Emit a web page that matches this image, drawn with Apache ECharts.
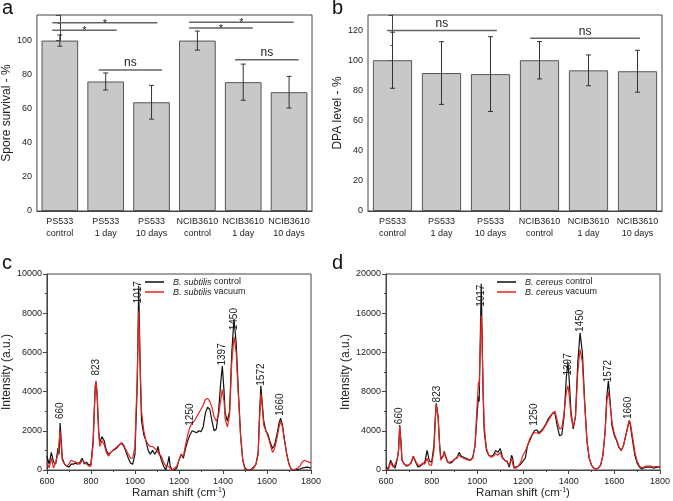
<!DOCTYPE html>
<html><head><meta charset="utf-8">
<script src="https://cdn.jsdelivr.net/npm/echarts@6/dist/echarts.min.js"></script>
<style>html,body{margin:0;padding:0;background:#fff}#main{width:673px;height:501px}</style>
</head><body><div id="main"></div>
<script>
const categories = ['PS533\ncontrol','PS533\n1 day','PS533\n10 days','NCIB3610\ncontrol','NCIB3610\n1 day','NCIB3610\n10 days'];
const survival = [100, 76.0, 63.8, 100, 75.6, 69.7];
const survivalErr = [3.3, 5.0, 9.9, 5.6, 10.6, 9.3];
const dpa = [100, 91.5, 90.8, 100, 93.3, 92.7];
const dpaErr = [18.6, 20.8, 24.8, 12.4, 10.2, 13.9];

const sigAx1 = [-0.165, -0.165, 0.85, 2.82, 2.82, 3.82];
const sigAx2 = [2.13, 1.24, 2.23, 5.1, 4.21, 5.21];
const sigAy = [110.4, 106.1, 82.7, 110.8, 107.3, 88.8];
const sigAtext = ['*', '*', 'ns', '*', '*', 'ns'];
const sigBx1 = [-0.113, 2.81];
const sigBx2 = [2.13, 5.05];
const sigBy = [119.8, 114.5];
const sigBtext = ['ns', 'ns'];

const ramanC = [600,610,620,630,640,650,655,660,665,670,
680,690,700,710,720,730,740,750,760,770,
780,790,800,810,815,820,823,828,835,840,
850,855,860,870,880,890,900,910,920,930,
940,950,960,970,980,990,1000,1005,1010,1014,
1017,1020,1025,1030,1040,1050,1060,1070,1080,1090,
1100,1105,1110,1120,1130,1140,1150,1155,1160,1170,
1180,1190,1200,1210,1220,1230,1240,1250,1260,1270,
1280,1290,1300,1310,1320,1330,1340,1350,1360,1370,
1380,1390,1397,1405,1410,1420,1430,1440,1450,1460,
1470,1480,1490,1500,1510,1520,1530,1540,1550,1560,
1565,1572,1578,1585,1595,1605,1615,1625,1635,1645,
1655,1662,1670,1680,1690,1700,1710,1720,1730,1740,
1750,1760,1770,1780,1790,1800];
const subtilisControl = [700,300,900,400,300,1100,800,2400,1500,600,
300,200,150,300,300,350,300,400,600,300,
400,250,300,1500,3000,4300,4500,3800,2000,1400,
1700,1800,1500,1000,800,900,1000,1050,1150,1300,
1350,1200,900,600,350,300,800,2500,4200,7000,
9400,7500,4500,2500,1800,1500,1000,800,1000,800,
1000,1200,900,500,200,0,400,700,200,0,
0,100,500,800,600,1100,1500,1800,2000,1950,
1900,2000,1950,2200,2900,3200,3100,2500,2000,2100,
3000,4500,5300,4000,2900,2500,3000,6000,7700,6500,
4000,1800,500,100,0,0,50,150,300,900,
2500,4300,3500,2500,2000,1800,1400,1100,1300,1800,
2400,2650,2300,1500,800,300,50,0,0,30,
50,100,120,150,130,100];
const subtilisVacuum = [400,100,600,100,400,800,700,2000,1200,500,
300,200,300,500,450,400,350,300,500,400,
300,200,200,1300,2900,4300,4550,3900,2000,1200,
1500,1600,1300,900,700,900,1000,1100,1200,1300,
1400,1250,1000,800,600,600,1200,3000,4500,6500,
8100,7000,4800,3000,2000,1500,1300,1200,1200,1100,
1000,900,800,700,400,200,200,150,100,0,
100,200,500,800,700,1300,1800,2200,2400,2500,
2700,2900,3100,3300,3600,3650,3500,3200,2700,2500,
2800,3600,4100,3500,2600,2200,2800,5500,6800,6000,
3800,1700,500,0,0,0,0,100,300,800,
2300,3900,3300,2300,2000,1700,1300,900,1100,1600,
2200,2500,2200,1500,800,300,50,0,50,100,
200,400,500,450,400,350];

const ramanD = [600,610,620,630,640,650,655,660,665,670,
680,690,700,710,720,730,740,750,760,770,
780,785,790,800,810,815,820,823,828,835,
840,850,855,860,870,880,890,900,910,920,
930,940,950,960,970,980,990,1000,1005,1008,
1012,1017,1020,1025,1030,1040,1050,1060,1070,1080,
1090,1100,1105,1110,1120,1130,1140,1150,1155,1160,
1170,1180,1190,1200,1210,1220,1230,1240,1250,1260,
1270,1280,1290,1300,1310,1320,1330,1340,1350,1360,
1370,1380,1390,1397,1403,1410,1420,1430,1440,1450,
1460,1470,1480,1490,1500,1510,1520,1530,1540,1550,
1560,1567,1574,1580,1590,1600,1610,1620,1630,1640,
1650,1660,1665,1670,1680,1690,1700,1710,1720,1730,
1740,1750,1760,1770,1780,1790,1800];
const cereusControl = [300,100,1000,500,200,1200,2000,4600,3000,1000,
600,400,500,700,1400,800,300,400,600,800,
2000,1800,900,800,2500,5000,6800,7000,5500,2500,
1200,1400,1900,1500,800,700,800,1100,1200,1800,
1400,1300,1200,1100,1000,1300,2500,6000,7500,7000,
12000,19000,15000,8000,4000,2000,1500,1400,1500,2000,
1800,2200,1800,1300,1000,900,300,1500,1200,300,
300,400,600,900,1200,2500,3000,3600,4000,4100,
3800,4000,4300,4700,5200,5500,5800,5800,4500,3500,
3600,5500,9500,11000,9000,6000,4200,5500,11000,14000,
12000,7000,3000,1200,500,200,100,200,500,1500,
4000,7500,9100,7500,4500,3500,3000,2300,2000,2500,
3500,4500,5000,4600,3000,1500,700,300,100,200,
300,300,300,200,250,300,300];
const cereusVacuum = [100,0,800,300,600,1200,2000,4500,3000,1000,
600,500,500,800,1400,900,500,500,700,600,
1200,1000,500,500,2000,4500,6700,6900,5500,2500,
1000,1400,1800,1400,800,800,900,1100,1300,1500,
1300,1200,1100,1000,1000,1200,2500,7000,9000,8500,
12000,15800,14000,8500,4500,2200,1500,1300,1400,1700,
1500,1800,1600,1200,1000,800,500,1100,900,200,
200,400,800,1500,1900,2500,3200,3600,3800,3800,
3700,3900,4200,4600,5000,5400,5800,6000,5000,4200,
4300,5800,8000,8600,7500,5500,4400,5500,10000,12300,
11000,6800,3000,1200,500,200,100,200,500,1500,
4000,7000,8000,7000,4800,3700,3100,2400,2000,2500,
3500,4500,5100,4800,3400,1800,900,400,200,300,
400,400,400,300,350,350,300];

const peaks = [660, 823, 1017, 1250, 1397, 1450, 1572, 1660];
const peakLabelC = [2600, 4820, 8500, 2260, 5330, 7130, 4300, 2770];
const peakLabelD = [4680, 6900, 16650, 4510, 9640, 14090, 8960, 5200];

const FONT = 'Liberation Sans, Arial, sans-serif';
const TXT = '#222';
const AX = '#444';

function pairs(xs, ys) { return xs.map((x, i) => [x, ys[i]]); }

function errorSeries(vals, errs, xi, yi) {
  return {
    type: 'custom', xAxisIndex: xi, yAxisIndex: yi, z: 5,
    data: vals.map((v, i) => [i, v, errs[i]]),
    encode: { x: 0, y: 1 },
    renderItem: function (params, api) {
      const i = api.value(0), v = api.value(1), e = api.value(2);
      const t = api.coord([i, v + e]), b = api.coord([i, v - e]);
      const hw = 2.5;
      const st = { stroke: '#333', lineWidth: 1 };
      return { type: 'group', children: [
        { type: 'line', shape: { x1: t[0], y1: t[1], x2: b[0], y2: b[1] }, style: st },
        { type: 'line', shape: { x1: t[0] - hw, y1: t[1], x2: t[0] + hw, y2: t[1] }, style: st },
        { type: 'line', shape: { x1: b[0] - hw, y1: b[1], x2: b[0] + hw, y2: b[1] }, style: st }
      ]};
    }
  };
}

function sigSeries(x1s, x2s, ys, texts, xi, yi) {
  return {
    type: 'custom', xAxisIndex: xi, yAxisIndex: yi, z: 6,
    data: x1s.map((x, k) => [x, x2s[k], ys[k], k]),
    encode: { x: [0, 1], y: 2 },
    renderItem: function (params, api) {
      const p1 = api.coord([api.value(0), api.value(2)]);
      const p2 = api.coord([api.value(1), api.value(2)]);
      const t = texts[api.value(3)];
      const star = t === '*';
      return { type: 'group', children: [
        { type: 'line', shape: { x1: p1[0], y1: p1[1], x2: p2[0], y2: p2[1] }, style: { stroke: '#666', lineWidth: 1.5 } },
        { type: 'text', x: (p1[0] + p2[0]) / 2, y: star ? p1[1] + 1 : p1[1] - 1,
          style: { text: t, fontSize: star ? 11 : 12, fontFamily: FONT, fill: TXT, align: 'center', verticalAlign: star ? 'middle' : 'bottom' } }
      ]};
    }
  };
}

function peakSeries(ys, xi, yi) {
  return {
    type: 'custom', xAxisIndex: xi, yAxisIndex: yi, z: 7,
    data: peaks.map((p, k) => [p, ys[k]]),
    encode: { x: 0, y: 1 },
    renderItem: function (params, api) {
      const p = api.coord([api.value(0), api.value(1)]);
      return { type: 'text', x: p[0], y: p[1], rotation: Math.PI / 2,
        style: { text: String(peaks[params.dataIndex]), fontSize: 10, fontFamily: FONT, fill: TXT, align: 'left', verticalAlign: 'middle' } };
    }
  };
}

function catAxis(grid) {
  return { type: 'category', gridIndex: grid, data: categories,
    axisLine: { lineStyle: { color: AX } },
    axisTick: { alignWithLabel: true, length: 4, lineStyle: { color: AX } },
    axisLabel: { color: TXT, fontSize: 9, fontFamily: FONT, lineHeight: 12, margin: 5, interval: 0 } };
}
function hiddenAxis(grid) {
  return { type: 'value', gridIndex: grid, min: -0.5, max: 5.5, show: false };
}
function ramanAxis(grid) {
  return { type: 'value', gridIndex: grid, min: 600, max: 1800, interval: 200,
    name: '{a|Raman shift (cm}{b|-1}{a|)}', nameLocation: 'middle', nameGap: 17,
    nameTextStyle: { rich: { a: { fontSize: 11.5, fontFamily: FONT, color: TXT }, b: { fontSize: 7, fontFamily: FONT, color: TXT, verticalAlign: 'top' } } },
    axisLine: { lineStyle: { color: AX } }, splitLine: { show: false },
    axisTick: { length: 4, lineStyle: { color: AX } },
    minorTick: { show: true, splitNumber: 2, length: 2, lineStyle: { color: AX } },
    axisLabel: { color: TXT, fontSize: 9, fontFamily: FONT, margin: 7, formatter: v => String(v) } };
}
function yAx(grid, max, interval, name, gap) {
  return { type: 'value', gridIndex: grid, min: 0, max: max, interval: interval,
    name: name, nameLocation: 'middle', nameGap: gap,
    nameTextStyle: { fontSize: 12, fontFamily: FONT, color: TXT },
    axisLine: { show: true, lineStyle: { color: AX } }, splitLine: { show: false },
    axisTick: { show: true, length: 4, lineStyle: { color: AX } },
    minorTick: { show: true, splitNumber: 2, length: 2, lineStyle: { color: AX } },
    axisLabel: { color: TXT, fontSize: 9, fontFamily: FONT, margin: 5, showMaxLabel: true,
      formatter: v => (v % interval === 0 ? String(v) : '') } };
}

function legendFor(names, left) {
  return { data: names, left: left, top: 272, orient: 'vertical', itemWidth: 19, itemHeight: 10, itemGap: 0,
    icon: 'path://M0,0 L20,0 L20,1.6 L0,1.6 Z',
    textStyle: { fontSize: 9, fontFamily: FONT, color: TXT, lineHeight: 10, padding: [0, 0, 0, 4],
      rich: { i: { fontStyle: 'italic', fontSize: 9, fontFamily: FONT, color: TXT, lineHeight: 10 } } },
    formatter: name => { const k = name.lastIndexOf(' '); return '{i|' + name.slice(0, k) + '}' + name.slice(k); } };
}

const BLACK = '#111', RED = '#e8231f';
function lineSeries(name, xs, ys, xi, yi, color) {
  return { type: 'line', name: name, xAxisIndex: xi, yAxisIndex: yi, data: pairs(xs, ys),
    symbol: 'none', showSymbol: false, lineStyle: { width: 1.2, color: color }, itemStyle: { color: color } };
}

const barStyle = { color: '#c8c8c8', borderColor: '#555', borderWidth: 1 };

const option = {
  animation: false,
  backgroundColor: '#fff',
  textStyle: { fontFamily: FONT },
  grid: [
    { left: 31, top: 15, width: 281, height: 196, show: true, borderColor: AX, borderWidth: 1 },
    { left: 368, top: 15, width: 294, height: 196, show: true, borderColor: AX, borderWidth: 1 },
    { left: 42, top: 274, width: 269, height: 196, show: true, borderColor: AX, borderWidth: 1 },
    { left: 386, top: 274, width: 275, height: 196, show: true, borderColor: AX, borderWidth: 1 }
  ],
  xAxis: [catAxis(0), hiddenAxis(0), catAxis(1), hiddenAxis(1), ramanAxis(2), ramanAxis(3)],
  yAxis: [
    yAx(0, 115, 20, 'Spore survival - %', 16),
    yAx(1, 130, 20, 'DPA level - %', 19),
    yAx(2, 10000, 2000, 'Intensity (a.u.)', 27),
    yAx(3, 20000, 4000, 'Intensity (a.u.)', 33)
  ],
  legend: [
    legendFor(['B. subtilis control', 'B. subtilis vacuum'], 140),
    legendFor(['B. cereus control', 'B. cereus vacuum'], 492)
  ],
  graphic: [
    { type: 'text', left: 2, top: -2, style: { text: 'a', fontSize: 20, fontFamily: FONT, fill: '#111' } },
    { type: 'text', left: 332, top: -2, style: { text: 'b', fontSize: 20, fontFamily: FONT, fill: '#111' } },
    { type: 'text', left: 2, top: 253, style: { text: 'c', fontSize: 20, fontFamily: FONT, fill: '#111' } },
    { type: 'text', left: 332, top: 253, style: { text: 'd', fontSize: 20, fontFamily: FONT, fill: '#111' } }
  ],
  series: [
    { type: 'bar', xAxisIndex: 0, yAxisIndex: 0, data: survival, barCategoryGap: '20%', itemStyle: barStyle },
    errorSeries(survival, survivalErr, 0, 0),
    sigSeries(sigAx1, sigAx2, sigAy, sigAtext, 1, 0),
    { type: 'bar', xAxisIndex: 2, yAxisIndex: 1, data: dpa, barCategoryGap: '20%', itemStyle: barStyle },
    errorSeries(dpa, dpaErr, 2, 1),
    sigSeries(sigBx1, sigBx2, sigBy, sigBtext, 3, 1),
    lineSeries('B. subtilis control', ramanC, subtilisControl, 4, 2, BLACK),
    lineSeries('B. subtilis vacuum', ramanC, subtilisVacuum, 4, 2, RED),
    peakSeries(peakLabelC, 4, 2),
    lineSeries('B. cereus control', ramanD, cereusControl, 5, 3, BLACK),
    lineSeries('B. cereus vacuum', ramanD, cereusVacuum, 5, 3, RED),
    peakSeries(peakLabelD, 5, 3)
  ]
};
const chart = echarts.init(document.getElementById('main'), null, { renderer: 'canvas' });
chart.setOption(option);
</script></body></html>
